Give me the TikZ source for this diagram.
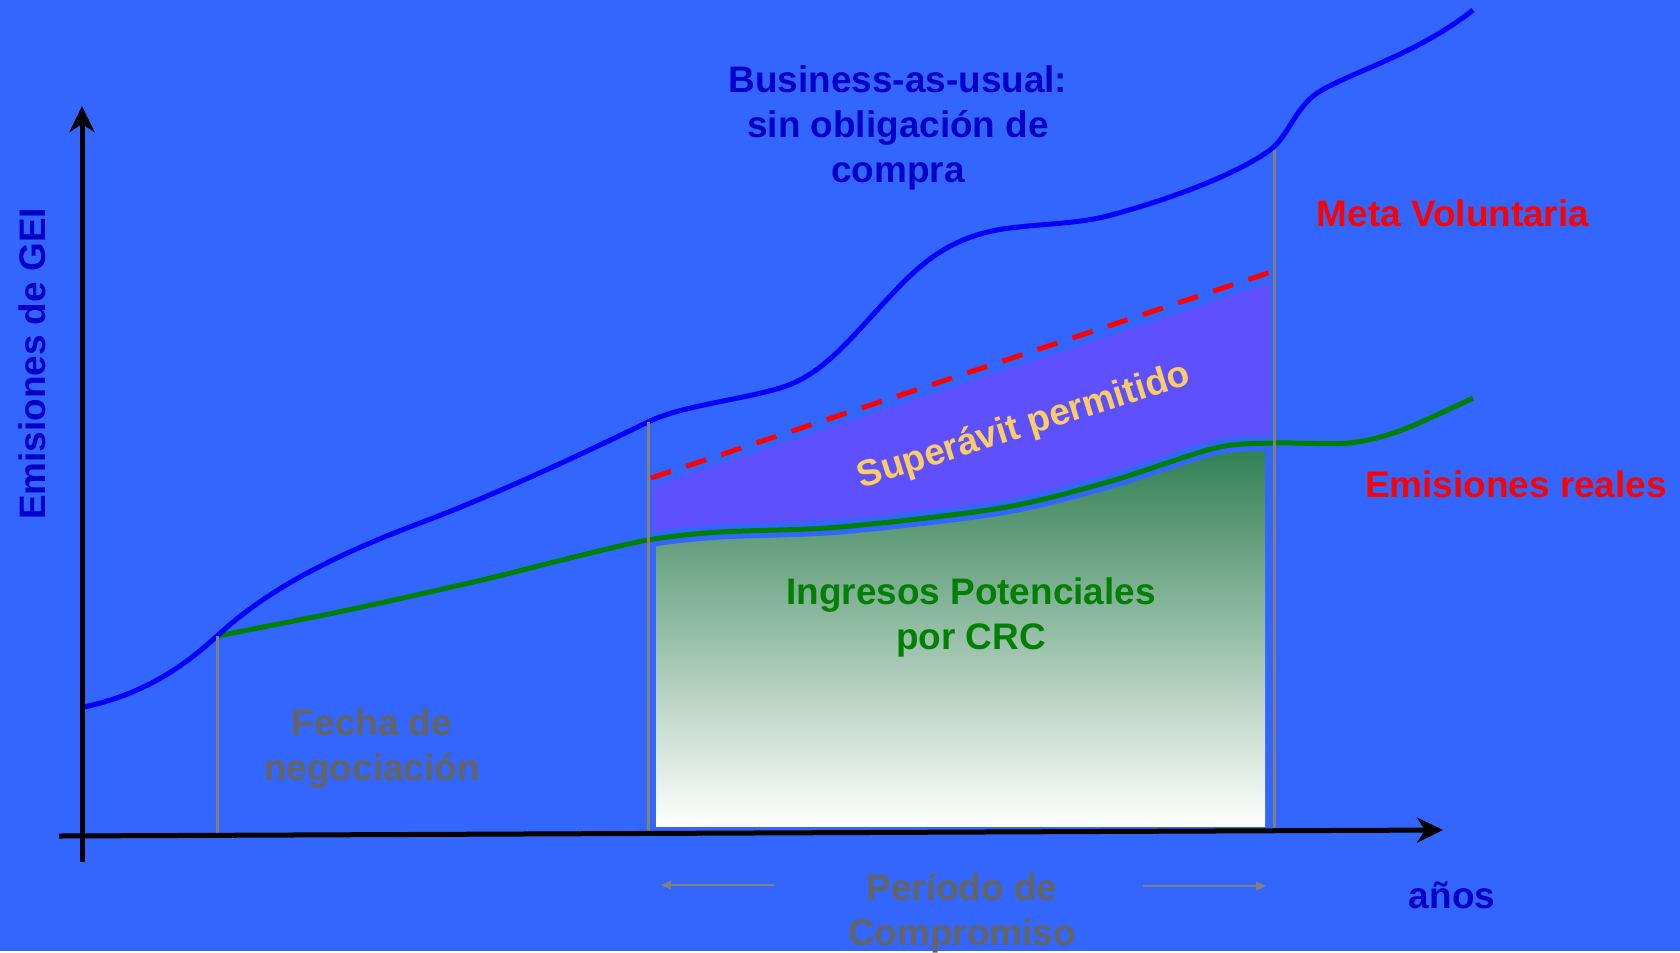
\documentclass[tikz,border=0pt]{standalone}
\usepackage{fontspec}
\setmainfont{Liberation Sans}
\usetikzlibrary{arrows.meta}
\definecolor{fondo}{HTML}{3366FF}
\definecolor{azulbau}{HTML}{0000FF}
\definecolor{azultexto}{HTML}{0000C8}
\definecolor{verdereal}{HTML}{008000}
\definecolor{crcverde}{RGB}{45,125,80}
\definecolor{crcmedio}{RGB}{190,204,200}
\definecolor{superavit}{HTML}{5F50FF}
\definecolor{naranja}{HTML}{FFCC66}
\definecolor{gris}{HTML}{808080}
\definecolor{gristexto}{HTML}{646464}

\begin{document}
\begin{tikzpicture}[x=0.01cm,y=-0.01cm,
		every node/.style={inner sep=0pt,align=center,font=\bfseries\fontsize{10.5}{12.8}\selectfont},
		eje/.style={line width=0.05cm,-{Stealth[length=0.26cm,width=0.25cm,inset=0.08cm]}},
		guia/.style={draw=gris,line width=0.03cm},
		flecha/.style={draw=gris,line width=0.015cm,-{Triangle[length=0.1cm,width=0.09cm]}}]
		\fill [fondo] (0,0) rectangle (1680,951);
		\def\reales{(217,636) (348,610) (482,580) (562,560) (648,540) (720,532) (840,527) (1001,508) (1108,482) (1215,448) (1274,443) (1349,443) (1402,430) (1473,398)}
		\coordinate (metaA) at (651,478);
		\coordinate (metaB) at (1271,272);
		\begin{scope}
			\clip plot [smooth] coordinates {\reales} -- (1473,0) -- (217,0) -- cycle;
			\fill [superavit] (653,486) -- (1270,283) -- (1270,600) -- (653,600) -- cycle;
		\end{scope}
		\begin{scope}
			\clip (656,400) rectangle (1265,826);
			\clip plot [smooth] coordinates {\reales} -- (1473,951) -- (217,951) -- cycle;
			\fill [top color=crcverde,middle color=crcmedio,bottom color=white] (656,440) rectangle (1265,826);
		\end{scope}
		\draw [fondo,line width=0.15cm] plot [smooth] coordinates {\reales};
		\draw [verdereal,line width=0.05cm] plot [smooth] coordinates {\reales};
		\draw [azulbau,line width=0.05cm] (84,707) .. controls (140,695) and (180,670) .. (217,636)
			.. controls (250,606) and (300,568) .. (420,523)
			.. controls (490,497) and (580,455) .. (648,422)
			.. controls (680,406) and (740,400) .. (780,388)
			.. controls (820,376) and (845,345) .. (880,307)
			.. controls (915,269) and (945,236) .. (1010,228)
			.. controls (1050,223) and (1080,224) .. (1115,214)
			.. controls (1180,196) and (1240,172) .. (1270,150)
			.. controls (1290,135) and (1295,105) .. (1322,90)
			.. controls (1360,69) and (1420,52) .. (1473,10);
		\draw [red,line width=0.05cm,dash pattern=on 0.21cm off 0.16cm] (metaA) -- (metaB);
		\draw [guia] (217,636) -- (217,836);
		\draw [guia] (648,422) -- (648,836);
		\draw [guia] (1274,150) -- (1274,830);
		\coordinate (ybase) at (82,862);
		\coordinate (ytop) at (82,106);
		\coordinate (xbase) at (59,836);
		\coordinate (xtop) at (1443,830);
		\draw [eje] (ybase) -- (ytop);
		\draw [eje] (xbase) -- (xtop);
		\node (bau) [text=azultexto] at (898,128) {Business-as-usual:\\sin obligación de\\compra};
		\node (meta) [text=red] at (1453,213) {Meta Voluntaria};
		\node (reales) [text=red] at (1516,484) {Emisiones reales};
		\node (gei) [text=azultexto,rotate=90] at (32,364) {Emisiones de GEI};
		\node (sup) [text=naranja,rotate=17.5] at (1024,427) {Superávit permitido};
		\node (crc) [text=verdereal] at (971,617) {Ingresos Potenciales\\por CRC};
		\node (fecha) [text=gristexto] at (372,749) {Fecha de\\negociación};
		\node (periodo) [text=gristexto] at (962,913) {Período de\\Compromiso};
		\node (anos) [text=azultexto] at (1452,895) {años};
		\coordinate (izqA) at (774,885);
		\coordinate (izqB) at (661,885);
		\coordinate (derA) at (1143,886);
		\coordinate (derB) at (1266,886);
		\draw [flecha] (izqA) -- (izqB);
		\draw [flecha] (derA) -- (derB);
	\end{tikzpicture}
\end{document}
